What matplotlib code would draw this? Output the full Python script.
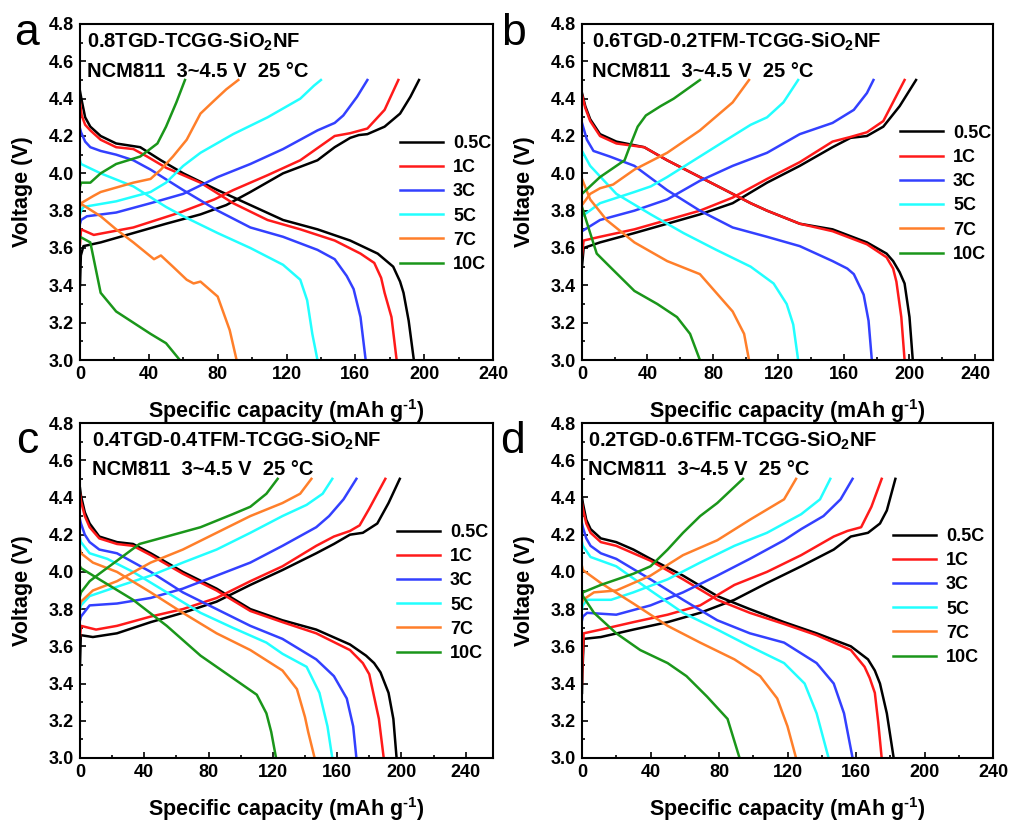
import matplotlib
matplotlib.use("Agg")
import matplotlib.pyplot as plt
from matplotlib.ticker import MultipleLocator

plt.rcParams['font.family'] = ['Liberation Sans', 'DejaVu Sans']
plt.rcParams['font.weight'] = 'bold'
plt.rcParams['mathtext.fontset'] = 'custom'
plt.rcParams['mathtext.rm'] = 'Liberation Sans:bold'
plt.rcParams['mathtext.bf'] = 'Liberation Sans:bold'
plt.rcParams['mathtext.default'] = 'bf'

rates = ['0.5C', '1C', '3C', '5C', '7C', '10C']
colors = ['#000000', '#ff1a1a', '#3340ff', '#22ffff', '#ff7f2a', '#1a961a']

# ---- panel a : 0.8TGD-TCGG-SiO2NF ----
a_chg = [
    ([0, 0.5, 2, 12, 31, 50, 70, 85, 99, 118, 138, 148, 157, 162, 167, 177, 186, 192, 197],
     [3.40, 3.56, 3.61, 3.63, 3.68, 3.73, 3.78, 3.83, 3.90, 4.00, 4.07, 4.14, 4.19, 4.205, 4.21, 4.25, 4.32, 4.41, 4.50]),
    ([0, 0.6, 8, 31, 58, 78, 89, 109, 128, 148, 157, 167, 177, 185],
     [3.62, 3.70, 3.67, 3.71, 3.79, 3.86, 3.91, 3.99, 4.07, 4.20, 4.215, 4.24, 4.34, 4.50]),
    ([0, 0.6, 4, 21, 41, 60, 80, 99, 118, 138, 148, 153, 161, 167],
     [3.73, 3.75, 3.77, 3.79, 3.84, 3.89, 3.98, 4.05, 4.13, 4.23, 4.27, 4.31, 4.41, 4.50]),
    ([0, 0.6, 2, 21, 41, 50, 60, 70, 89, 109, 128, 136, 140],
     [3.78, 3.80, 3.82, 3.85, 3.90, 3.95, 4.04, 4.11, 4.21, 4.30, 4.40, 4.47, 4.50]),
    ([0, 0.6, 8, 12, 31, 41, 47, 54, 62, 70, 78, 85, 92],
     [3.82, 3.84, 3.88, 3.90, 3.95, 3.97, 4.02, 4.09, 4.18, 4.32, 4.39, 4.45, 4.50]),
    ([0, 0.6, 6, 12, 21, 35, 45, 50, 56, 61],
     [3.93, 3.95, 3.95, 4.00, 4.05, 4.09, 4.16, 4.25, 4.38, 4.50]),
]
a_dis = [
    ([0, 1, 3, 6, 12, 21, 35, 47, 60, 80, 99, 118, 138, 157, 173, 182, 186, 188, 191, 194],
     [4.44, 4.39, 4.30, 4.25, 4.20, 4.16, 4.14, 4.07, 4.00, 3.91, 3.83, 3.75, 3.70, 3.64, 3.57, 3.50, 3.42, 3.36, 3.21, 3.00]),
    ([0, 1, 3, 6, 12, 21, 31, 39, 50, 70, 89, 109, 128, 148, 163, 171, 175, 177, 181, 184],
     [4.38, 4.31, 4.26, 4.23, 4.18, 4.14, 4.13, 4.09, 4.03, 3.95, 3.84, 3.75, 3.70, 3.64, 3.57, 3.52, 3.44, 3.36, 3.23, 3.00]),
    ([0, 0.6, 3, 6, 12, 21, 31, 41, 60, 80, 99, 118, 138, 148, 155, 159, 163, 166],
     [4.24, 4.22, 4.17, 4.14, 4.12, 4.10, 4.07, 4.02, 3.91, 3.80, 3.71, 3.66, 3.59, 3.54, 3.45, 3.38, 3.23, 3.00]),
    ([0, 0.6, 12, 31, 50, 60, 80, 99, 118, 128, 132, 135, 138],
     [4.07, 4.05, 4.00, 3.93, 3.82, 3.77, 3.68, 3.60, 3.51, 3.43, 3.32, 3.14, 3.00]),
    ([0, 12, 21, 31, 43, 47, 54, 62, 66, 70, 80, 87, 91],
     [3.84, 3.77, 3.70, 3.63, 3.54, 3.56, 3.50, 3.43, 3.41, 3.42, 3.34, 3.16, 3.00]),
    ([0, 6, 12, 21, 31, 41, 50, 58],
     [3.66, 3.63, 3.36, 3.26, 3.20, 3.14, 3.09, 3.00]),
]

# ---- panel b : 0.6TGD-0.2TFM-TCGG-SiO2NF ----
b_chg = [
    ([0, 1, 11, 32, 52, 72, 92, 113, 133, 153, 164, 174, 184, 194, 204],
     [3.50, 3.60, 3.63, 3.68, 3.73, 3.78, 3.84, 3.95, 4.04, 4.14, 4.19, 4.20, 4.25, 4.36, 4.50]),
    ([0, 1, 11, 32, 52, 72, 92, 113, 133, 153, 164, 174, 184, 197],
     [3.56, 3.64, 3.66, 3.70, 3.75, 3.80, 3.87, 3.97, 4.06, 4.17, 4.195, 4.22, 4.28, 4.50]),
    ([0, 11, 32, 52, 72, 92, 113, 133, 153, 166, 174, 178],
     [3.69, 3.75, 3.80, 3.86, 3.96, 4.04, 4.11, 4.21, 4.27, 4.34, 4.43, 4.50]),
    ([0, 11, 32, 42, 52, 72, 92, 103, 113, 123, 132],
     [3.77, 3.84, 3.90, 3.93, 3.98, 4.09, 4.20, 4.26, 4.30, 4.38, 4.50]),
    ([0, 5, 11, 19, 32, 52, 72, 92, 102],
     [3.83, 3.89, 3.92, 3.94, 4.02, 4.11, 4.23, 4.38, 4.50]),
    ([0, 11, 21, 26, 29, 34, 39, 48, 56, 64, 72],
     [3.89, 3.98, 4.04, 4.07, 4.14, 4.25, 4.31, 4.36, 4.40, 4.45, 4.50]),
]
b_dis = [
    ([0, 2, 5, 11, 21, 38, 52, 72, 92, 103, 113, 133, 153, 174, 186, 190, 194, 197, 200, 202],
     [4.43, 4.36, 4.29, 4.21, 4.17, 4.14, 4.07, 3.98, 3.89, 3.84, 3.80, 3.73, 3.70, 3.63, 3.57, 3.53, 3.47, 3.41, 3.23, 3.00]),
    ([0, 2, 5, 11, 21, 38, 52, 72, 92, 103, 113, 133, 153, 174, 186, 190, 192, 195, 197],
     [4.42, 4.35, 4.28, 4.20, 4.16, 4.14, 4.07, 3.98, 3.89, 3.84, 3.80, 3.73, 3.69, 3.62, 3.55, 3.49, 3.42, 3.23, 3.00]),
    ([0, 3, 7, 17, 32, 52, 72, 92, 113, 133, 153, 162, 166, 172, 175, 177],
     [4.27, 4.18, 4.12, 4.09, 4.04, 3.91, 3.80, 3.71, 3.66, 3.61, 3.53, 3.49, 3.46, 3.35, 3.21, 3.00]),
    ([0, 5, 21, 42, 62, 82, 103, 117, 125, 129, 132],
     [4.12, 4.04, 3.89, 3.78, 3.68, 3.59, 3.50, 3.41, 3.30, 3.19, 3.00]),
    ([0, 5, 15, 32, 52, 72, 92, 99, 102],
     [3.97, 3.86, 3.75, 3.63, 3.53, 3.46, 3.26, 3.14, 3.00]),
    ([0, 5, 9, 17, 32, 46, 58, 66, 72],
     [3.82, 3.68, 3.57, 3.50, 3.37, 3.30, 3.23, 3.14, 3.00]),
]

# ---- panel c : 0.4TGD-0.4TFM-TCGG-SiO2NF ----
c_chg = [
    ([0, 0.5, 8, 23, 44, 64, 85, 106, 126, 147, 158, 168, 176, 185, 192, 199],
     [3.50, 3.66, 3.65, 3.67, 3.73, 3.78, 3.84, 3.93, 4.01, 4.10, 4.15, 4.20, 4.21, 4.26, 4.37, 4.50]),
    ([0, 0.6, 10, 23, 44, 64, 85, 106, 126, 147, 158, 168, 174, 180, 190],
     [3.65, 3.71, 3.69, 3.71, 3.76, 3.80, 3.86, 3.95, 4.03, 4.14, 4.19, 4.22, 4.25, 4.34, 4.50]),
    ([0, 0.6, 6, 23, 44, 64, 85, 106, 126, 147, 155, 164, 172],
     [3.74, 3.76, 3.82, 3.83, 3.86, 3.91, 3.98, 4.05, 4.14, 4.24, 4.30, 4.39, 4.50]),
    ([0, 0.6, 6, 23, 44, 64, 85, 106, 126, 141, 151, 157],
     [3.80, 3.82, 3.87, 3.92, 3.98, 4.05, 4.12, 4.21, 4.30, 4.36, 4.42, 4.50]),
    ([0, 0.6, 8, 23, 44, 64, 85, 106, 126, 137, 144],
     [3.82, 3.84, 3.90, 3.95, 4.05, 4.12, 4.21, 4.30, 4.37, 4.42, 4.50]),
    ([0, 0.6, 6, 12, 23, 37, 54, 75, 95, 106, 116, 123],
     [3.87, 3.89, 3.95, 3.99, 4.06, 4.15, 4.19, 4.24, 4.31, 4.35, 4.42, 4.50]),
]
c_dis = [
    ([0, 0.6, 3, 6, 12, 23, 33, 44, 64, 85, 106, 126, 147, 168, 178, 183, 187, 192, 195, 197],
     [4.45, 4.41, 4.32, 4.26, 4.19, 4.16, 4.15, 4.10, 4.00, 3.91, 3.80, 3.74, 3.69, 3.61, 3.55, 3.51, 3.46, 3.35, 3.21, 3.00]),
    ([0, 0.6, 3, 6, 12, 23, 33, 44, 64, 85, 106, 126, 147, 168, 176, 180, 182, 186, 189],
     [4.42, 4.38, 4.30, 4.24, 4.18, 4.15, 4.14, 4.09, 3.99, 3.90, 3.79, 3.73, 3.67, 3.58, 3.51, 3.45, 3.37, 3.21, 3.00]),
    ([0, 0.6, 3, 6, 12, 23, 44, 64, 85, 106, 126, 147, 158, 166, 170, 172],
     [4.28, 4.26, 4.20, 4.16, 4.12, 4.10, 4.00, 3.89, 3.80, 3.71, 3.64, 3.53, 3.44, 3.32, 3.17, 3.00]),
    ([0, 0.6, 6, 17, 33, 54, 75, 95, 116, 126, 141, 149, 154, 157],
     [4.18, 4.16, 4.10, 4.07, 4.00, 3.89, 3.78, 3.70, 3.62, 3.56, 3.49, 3.35, 3.17, 3.00]),
    ([0, 0.6, 8, 23, 44, 64, 85, 106, 126, 135, 140, 142, 146],
     [4.12, 4.10, 4.05, 4.00, 3.89, 3.78, 3.67, 3.58, 3.47, 3.37, 3.22, 3.14, 3.00]),
    ([0, 0.6, 12, 33, 54, 75, 95, 110, 116, 119, 122],
     [4.03, 4.02, 3.96, 3.85, 3.71, 3.55, 3.43, 3.34, 3.24, 3.14, 3.00]),
]

# ---- panel d : 0.2TGD-0.6TFM-TCGG-SiO2NF ----
d_chg = [
    ([0, 0.2, 1, 11, 30, 50, 69, 89, 108, 128, 147, 157, 167, 174, 178, 183],
     [3.35, 3.45, 3.64, 3.65, 3.69, 3.73, 3.78, 3.85, 3.94, 4.03, 4.12, 4.19, 4.21, 4.26, 4.33, 4.50]),
    ([0, 0.2, 1, 11, 30, 50, 69, 89, 108, 128, 147, 155, 163, 169, 175],
     [3.40, 3.50, 3.67, 3.69, 3.73, 3.77, 3.82, 3.93, 4.00, 4.09, 4.19, 4.22, 4.24, 4.35, 4.50]),
    ([0, 0.5, 3, 20, 40, 59, 79, 98, 118, 128, 141, 151, 158],
     [3.74, 3.76, 3.78, 3.77, 3.82, 3.89, 3.98, 4.07, 4.17, 4.23, 4.30, 4.39, 4.50]),
    ([0, 0.5, 3, 17, 30, 50, 69, 89, 108, 128, 139, 145],
     [3.80, 3.82, 3.85, 3.85, 3.89, 3.96, 4.05, 4.14, 4.21, 4.31, 4.39, 4.50]),
    ([0, 0.5, 7, 20, 40, 59, 79, 98, 118, 125],
     [3.83, 3.85, 3.89, 3.90, 3.98, 4.09, 4.17, 4.28, 4.39, 4.50]),
    ([0, 0.5, 11, 30, 40, 50, 59, 69, 79, 94],
     [3.87, 3.89, 3.93, 3.99, 4.03, 4.12, 4.21, 4.30, 4.37, 4.50]),
]
d_dis = [
    ([0, 0.5, 2.5, 5, 11, 20, 30, 40, 59, 79, 98, 118, 137, 157, 167, 171, 174, 178, 182],
     [4.40, 4.37, 4.28, 4.23, 4.18, 4.16, 4.12, 4.07, 3.98, 3.87, 3.80, 3.73, 3.67, 3.60, 3.53, 3.47, 3.40, 3.24, 3.00]),
    ([0, 0.5, 2.5, 5, 11, 20, 30, 40, 59, 79, 98, 118, 137, 157, 165, 168, 171, 173, 175],
     [4.37, 4.34, 4.26, 4.21, 4.16, 4.14, 4.10, 4.06, 3.96, 3.85, 3.78, 3.72, 3.66, 3.58, 3.49, 3.43, 3.35, 3.19, 3.00]),
    ([0, 0.5, 2.5, 5, 11, 20, 40, 59, 79, 98, 118, 137, 147, 153, 158],
     [4.26, 4.24, 4.18, 4.14, 4.10, 4.07, 3.96, 3.85, 3.74, 3.67, 3.62, 3.51, 3.40, 3.24, 3.00]),
    ([0, 0.5, 5, 20, 40, 59, 79, 98, 118, 130, 137, 144],
     [4.16, 4.14, 4.08, 4.03, 3.90, 3.78, 3.69, 3.60, 3.51, 3.40, 3.24, 3.00]),
    ([0, 0.5, 11, 30, 50, 69, 89, 104, 114, 120, 125],
     [4.03, 4.01, 3.94, 3.83, 3.71, 3.62, 3.53, 3.44, 3.32, 3.17, 3.00]),
    ([0, 0.5, 7, 20, 34, 50, 61, 73, 85, 92],
     [3.89, 3.87, 3.78, 3.67, 3.58, 3.51, 3.44, 3.33, 3.21, 3.00]),
]

panels = [
    ('a', '0.8TGD-TCGG-SiO$_2$NF', a_chg, a_dis, 240),
    ('b', '0.6TGD-0.2TFM-TCGG-SiO$_2$NF', b_chg, b_dis, 251),
    ('c', '0.4TGD-0.4TFM-TCGG-SiO$_2$NF', c_chg, c_dis, 257),
    ('d', '0.2TGD-0.6TFM-TCGG-SiO$_2$NF', d_chg, d_dis, 240),
]

rects = [
    (80 / 1011, 1 - 360 / 823, 413 / 1011, 336 / 823),
    (582 / 1011, 1 - 360 / 823, 411 / 1011, 336 / 823),
    (80 / 1011, 1 - 758 / 823, 413 / 1011, 335 / 823),
    (582 / 1011, 1 - 758 / 823, 411 / 1011, 335 / 823),
]
legend_pos = [(0.775, 0.670), (0.774, 0.700), (0.768, 0.699), (0.757, 0.687)]
text_x = [0.018, 0.024, 0.029, 0.015]
letter_pos = [(27 / 1011, 1 - 45 / 823), (513 / 1011, 1 - 45 / 823),
              (27 / 1011, 1 - 453 / 823), (513 / 1011, 1 - 453 / 823)]

fig = plt.figure(figsize=(10.11, 8.23), dpi=100)

for i, (letter, title, chg, dis, xmax) in enumerate(panels):
    ax = fig.add_axes(rects[i])
    for j in range(6):
        ax.plot(chg[j][0], chg[j][1], color=colors[j], lw=1.8, label=rates[j])
        ax.plot(dis[j][0], dis[j][1], color=colors[j], lw=1.8)
    ax.set_xlim(0, xmax)
    ax.set_ylim(3.0, 4.8)
    ax.xaxis.set_major_locator(MultipleLocator(40))
    ax.xaxis.set_minor_locator(MultipleLocator(20))
    ax.yaxis.set_major_locator(MultipleLocator(0.2))
    ax.yaxis.set_minor_locator(MultipleLocator(0.1))
    ax.yaxis.set_major_formatter(plt.FormatStrFormatter('%.1f'))
    ax.tick_params(which='both', direction='in', top=False, right=False,
                   labelsize=13, width=1.2, pad=4.5)
    ax.tick_params(which='major', length=4)
    ax.tick_params(which='minor', length=2.5)
    for s in ax.spines.values():
        s.set_linewidth(1.5)
    for lab in ax.get_xticklabels() + ax.get_yticklabels():
        lab.set_fontweight('bold')
    ax.set_xlabel(r'Specific capacity (mAh g$^{\text{-}1}$)', fontsize=15.5,
                  fontweight='bold', labelpad=10)
    ax.set_ylabel('Voltage (V)', fontsize=15.5, fontweight='bold', labelpad=11)
    ax.text(text_x[i], 0.946, title, transform=ax.transAxes, fontsize=14.5,
            fontweight='bold', va='center', ha='left')
    ax.text(text_x[i], 0.86, 'NCM811  3~4.5 V  25 °C', transform=ax.transAxes,
            fontsize=14.5, fontweight='bold', va='center', ha='left')
    ax.legend(loc='upper left', bbox_to_anchor=legend_pos[i], frameon=False,
              fontsize=13, handlelength=2.38, handletextpad=0.55,
              labelspacing=0.40, borderpad=0, borderaxespad=0)
    fig.text(letter_pos[i][0], letter_pos[i][1], letter,
             fontsize=32, fontweight='normal', ha='center', va='baseline')

fig.savefig('out.png', dpi=100)
